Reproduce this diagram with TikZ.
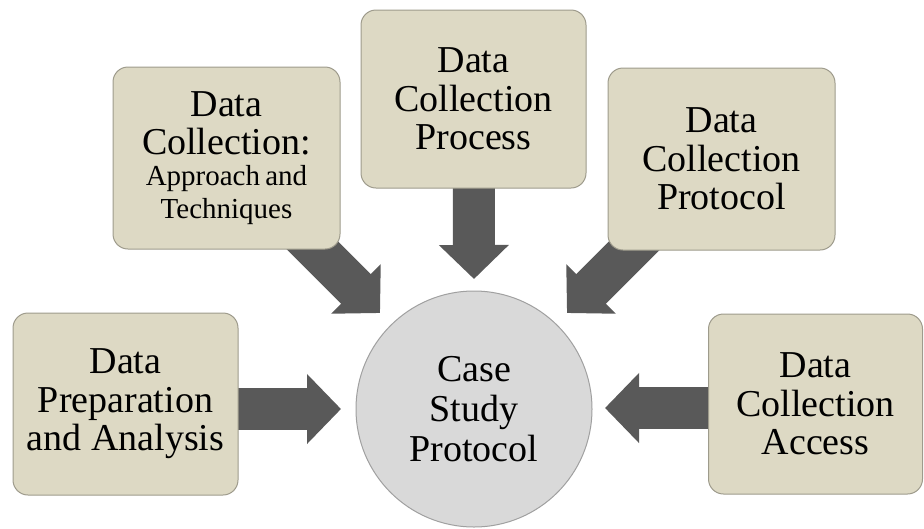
\documentclass[tikz,border=0pt]{standalone}
\usepackage{fontspec}
\setmainfont{Liberation Serif}
\newfontfamily\timesx{Liberation Serif}
\usetikzlibrary{arrows.meta}
\definecolor{boxfill}{HTML}{DDD9C4}
\definecolor{boxline}{HTML}{9E9B8C}
\definecolor{circfill}{HTML}{D9D9D9}
\definecolor{circline}{HTML}{A0A0A0}
\definecolor{arrowcol}{HTML}{595959}
\tikzset{
  tanbox/.style={draw=boxline, line width=1pt, fill=boxfill, rounded corners=15pt,
    align=center, inner sep=0pt, font=\timesx\fontsize{38}{38.5}\selectfont},
  hubcircle/.style={circle, draw=circline, line width=1pt, fill=circfill,
    align=center, inner sep=0pt, minimum size=236pt, font=\timesx\fontsize{38}{40}\selectfont},
  bigarrow/.style={draw=arrowcol, line width=42pt,
    -{Triangle[width=68pt,length=34pt,fill=arrowcol]}}
}
\newcommand{\smallfs}{\fontsize{29}{32}\selectfont}
\begin{document}
\begin{tikzpicture}[x=1pt,y=-1pt]
\useasboundingbox (0,0) rectangle (924,528);
% tips of the arrows
\coordinate (tipTL) at (380,313);
\coordinate (tipTR) at (567,313);
\coordinate (tipT) at (474,279);
\coordinate (tipL) at (341,409);
\coordinate (tipR) at (605,408);
\coordinate (sTL) at (280,213);
\coordinate (sTR) at (667,213);
% node positions
\path
  (226.5,158) coordinate (cApr)
  (473.5,99) coordinate (cProc)
  (721.5,159) coordinate (cProt)
  (125.5,404) coordinate (cPrep)
  (815.5,404) coordinate (cAcc);
% arrows first (behind the boxes)
\draw[bigarrow] (sTL) -- (tipTL);
\draw[bigarrow] (sTR) -- (tipTR);
\draw[bigarrow] (cProc) -- (tipT);
\draw[bigarrow] (cPrep |- tipL) -- (tipL);
\draw[bigarrow] (cAcc |- tipR) -- (tipR);
% boxes
\node[tanbox, minimum width=227pt, minimum height=182pt] (apr) at (cApr)
  {Data\\Collection:\\[-8pt]{\smallfs Approach\hspace{-2pt} and}\\[-5pt]{\smallfs Techniques}};
\node[tanbox, minimum width=225pt, minimum height=178pt] (proc) at (cProc)
  {Data\\Collection\\Process};
\node[tanbox, minimum width=227pt, minimum height=182pt] (prot) at (cProt)
  {Data\\Collection\\Protocol};
\node[tanbox, minimum width=225pt, minimum height=182pt] (prep) at (cPrep)
  {Data\\Preparation\\and Analysis};
\node[tanbox, minimum width=214pt, minimum height=180pt] (acc) at (cAcc)
  {Data\\Collection\\Access};
\node[hubcircle] (hub) at (474,409) {Case\\Study\\Protocol};
\end{tikzpicture}
\end{document}
